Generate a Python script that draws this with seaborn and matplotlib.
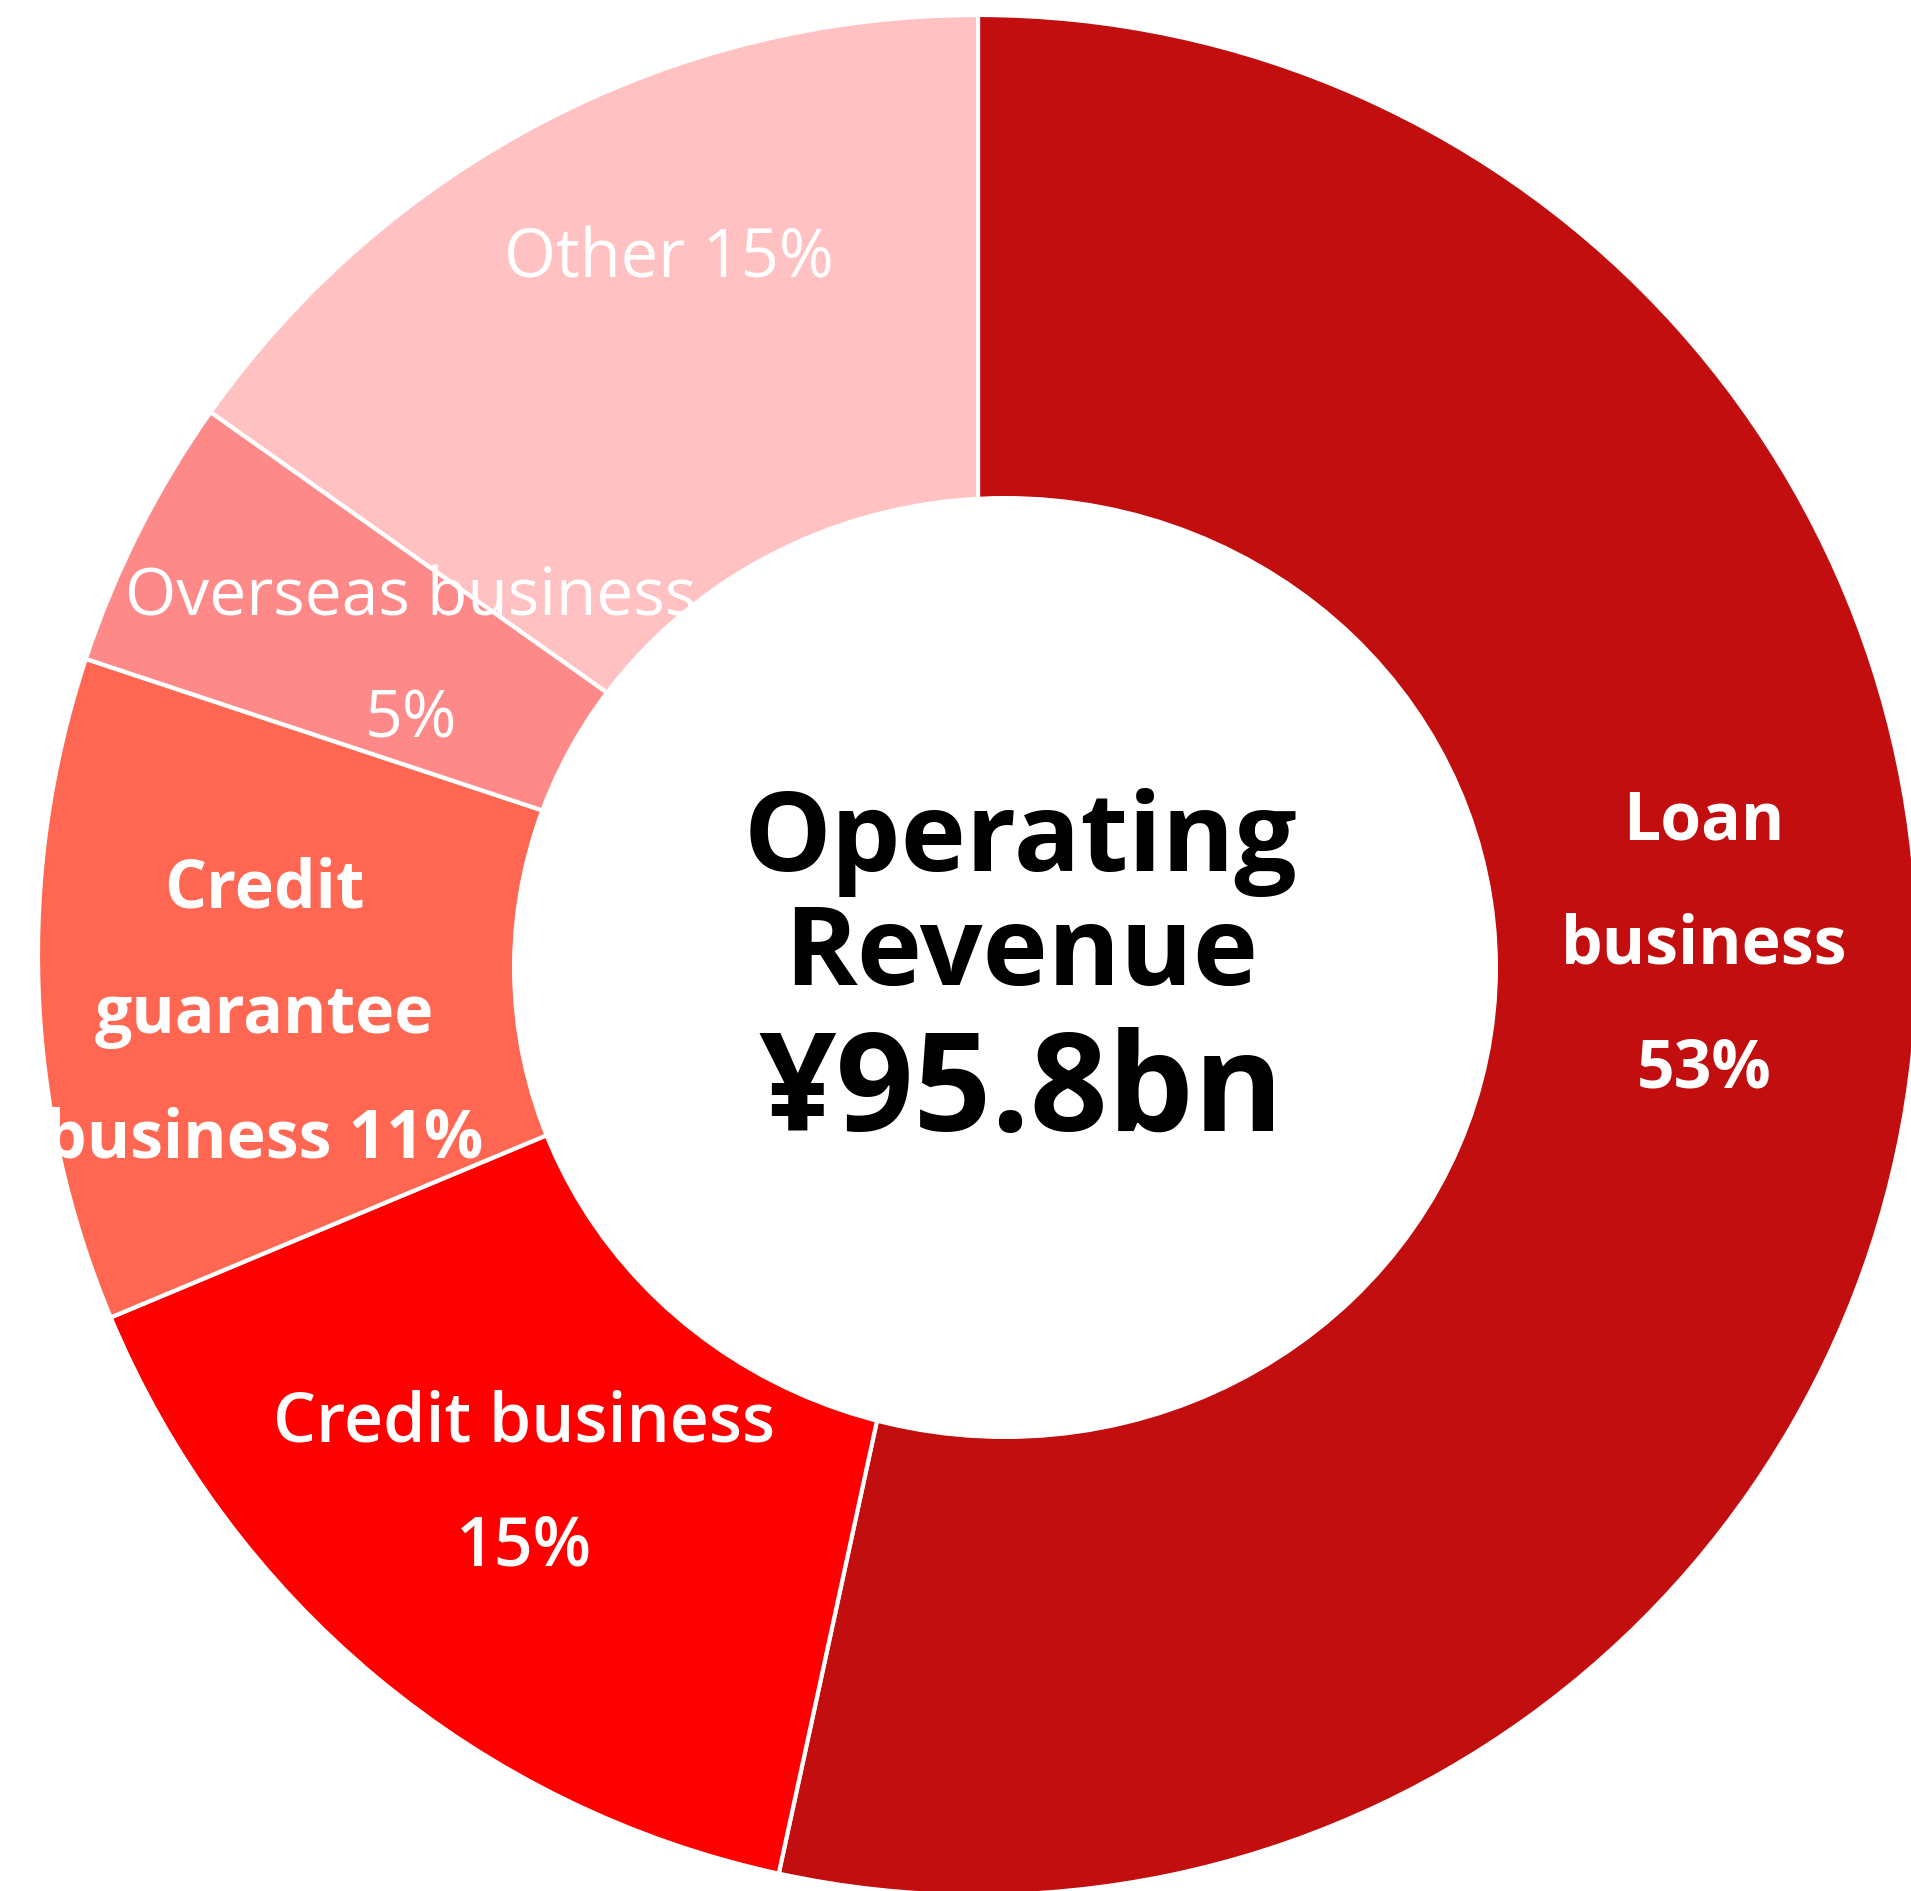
import matplotlib
matplotlib.use("Agg")
import matplotlib.pyplot as plt
from matplotlib.patches import Ellipse, Circle
import seaborn as sns

# Data (share of operating revenue, %)
segments = ['Loan business', 'Credit business', 'Credit guarantee business',
            'Overseas business', 'Other']
shares = [53.4, 15.3, 11.4, 4.7, 15.2]
seg_colors = ['#C20E0E', '#FF0000', '#FF6752', '#FE8989', '#FFC1C1']
total_bn = 95.8

sns.set_style("white")
plt.rcParams['font.family'] = ['Open Sans', 'DejaVu Sans']

W, H = 1911, 1891
fig = plt.figure(figsize=(W / 100, H / 100), dpi=100)
ax = fig.add_axes([0, 0, 1, 1])

# outer ring (pixel coords, y measured from top)
cx, cy, R = 978, 955, 940
ax.pie(shares, colors=sns.color_palette(seg_colors), startangle=90, counterclock=False,
       center=(cx, H - cy), radius=R,
       wedgeprops=dict(edgecolor='white', linewidth=3))

# hole is a bit off-centre in the original
hole = Ellipse((1005, H - 967.5), width=986, height=943, facecolor='white',
               edgecolor='none', zorder=3)
ax.add_patch(hole)

ax.set_xlim(0, W)
ax.set_ylim(0, H)
ax.set_aspect('auto')
ax.axis('off')

clip = Circle((cx, H - cy), R, transform=ax.transData)

pct = [f"{round(s)}%" for s in shares]


def put(x, y, s, size, weight='bold', color='white'):
    t = ax.text(x, H - y, s, ha='center', va='baseline', fontsize=size,
                fontweight=weight, color=color, zorder=5)
    if color == 'white':
        t.set_clip_path(clip)


# segment labels
put(1704, 839, 'Loan', 47.5)
put(1704, 963, 'business', 47.5)
put(1704, 1088, pct[0], 47.5)

put(524, 1442, 'Credit business', 49, weight='semibold')
put(524, 1566, pct[1], 49, weight='semibold')

put(264, 908, 'Credit', 47.5)
put(264, 1033, 'guarantee', 47.5)
put(264, 1158, 'business ' + pct[2], 47.5)

put(411, 615, 'Overseas business', 47.5, weight='normal')
put(411, 737, pct[3], 47.5, weight='normal')

put(669, 277, 'Other ' + pct[4], 48, weight='normal')

# centre title
put(1021, 871, 'Operating', 79.5, color='black')
put(1021, 985, 'Revenue', 79.5, color='black')
put(1021, 1131, f'¥{total_bn}bn', 98, color='black')

fig.savefig('out.png', dpi=100, facecolor='white')
